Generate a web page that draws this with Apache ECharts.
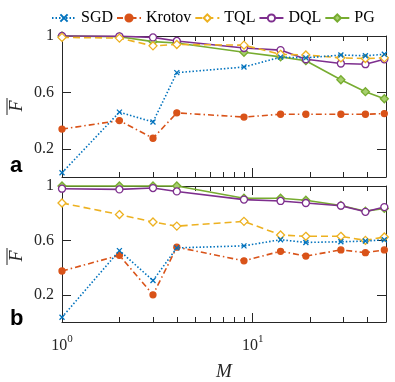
<!DOCTYPE html>
<html>
<head>
<meta charset="utf-8">
<script src="https://cdn.jsdelivr.net/npm/echarts@6/dist/echarts.min.js"></script>
<style>
  html, body { margin: 0; padding: 0; background: #fff; }
  #chart { width: 395px; height: 382px; }
</style>
</head>
<body>
<div id="chart"></div>
<script>
// number of samples M
var mVals = [1, 2, 3, 4, 9, 14, 19, 29, 39, 49];

// panel a
var sgdA = [0.03, 0.46, 0.39, 0.74, 0.78, 0.85, 0.845, 0.865, 0.86, 0.87];
var krotovA = [0.34, 0.40, 0.275, 0.455, 0.425, 0.445, 0.445, 0.445, 0.445, 0.45];
var tqlA = [0.99, 0.985, 0.93, 0.94, 0.935, 0.87, 0.865, 0.845, 0.84, 0.845];
var dqlA = [1.0, 0.998, 0.99, 0.965, 0.915, 0.90, 0.835, 0.805, 0.80, 0.835];
var pgA = [1.0, 0.995, 0.96, 0.95, 0.885, 0.852, 0.825, 0.69, 0.605, 0.555];

// panel b
var sgdB = [0.035, 0.525, 0.305, 0.545, 0.56, 0.605, 0.585, 0.59, 0.595, 0.605];
var krotovB = [0.375, 0.49, 0.2, 0.55, 0.45, 0.52, 0.485, 0.53, 0.51, 0.53];
var tqlB = [0.875, 0.79, 0.735, 0.705, 0.74, 0.64, 0.63, 0.63, 0.6, 0.625];
var dqlB = [0.98, 0.975, 0.985, 0.96, 0.9, 0.89, 0.875, 0.855, 0.81, 0.845];
var pgB = [1.0, 1.0, 1.0, 1.0, 0.91, 0.91, 0.895, 0.857, 0.815, 0.835];

var yTicks = [0.2, 0.6, 1];
var xMajor = [1, 10];
var xMinor = [2, 3, 4, 5, 6, 7, 8, 9, 20, 30, 40];

var names = ["SGD", "Krotov", "TQL", "DQL", "PG"];
var colors = ["#0072BD", "#D95319", "#EDB120", "#7E2F8E", "#77AC30"];

var serif = "Liberation Serif";
var axisColor = "#262626";

var chart = echarts.init(document.getElementById("chart"));

function pairs(ys) {
  return mVals.map(function (m, i) { return [m, ys[i]]; });
}

function xAxisSet(gi, withLabel) {
  var out = [];
  ["bottom", "top"].forEach(function (pos) {
    out.push({
      type: "log", logBase: 10, min: 1, max: 50, gridIndex: gi, position: pos,
      axisLine: { show: true, lineStyle: { color: axisColor, width: 1 } },
      axisTick: { show: true, inside: true, length: 9, customValues: xMajor,
        lineStyle: { color: axisColor } },
      axisLabel: {
        show: withLabel && pos === "bottom", customValues: xMajor, margin: 12,
        formatter: function (v) {
          return "{b|10}{s|" + Math.round(Math.log10(v)) + "}";
        },
        rich: {
          b: { fontFamily: serif, fontSize: 16, color: axisColor, lineHeight: 20, verticalAlign: "bottom" },
          s: { fontFamily: serif, fontSize: 11, color: axisColor, lineHeight: 11, verticalAlign: "top" }
        }
      },
      splitLine: { show: false },
      name: withLabel && pos === "bottom" ? "M" : "",
      nameLocation: "middle", nameGap: 40,
      nameTextStyle: { fontFamily: serif, fontStyle: "italic", fontSize: 19, color: axisColor }
    });
    out.push({
      type: "log", logBase: 10, min: 1, max: 50, gridIndex: gi, position: pos,
      axisLine: { show: false },
      axisTick: { show: true, inside: true, length: 5, customValues: xMinor,
        lineStyle: { color: axisColor } },
      axisLabel: { show: false },
      splitLine: { show: false }
    });
  });
  return out;
}

function yAxisSet(gi) {
  return ["left", "right"].map(function (pos) {
    return {
      type: "value", min: 0, max: 1, gridIndex: gi, position: pos,
      axisLine: { show: true, lineStyle: { color: axisColor, width: 1 } },
      axisTick: { show: true, inside: true, length: 9, customValues: yTicks,
        lineStyle: { color: axisColor } },
      axisLabel: { show: pos === "left", customValues: yTicks, margin: 8,
        fontFamily: serif, fontSize: 16, color: axisColor,
        formatter: function (v) { return String(v); } },
      splitLine: { show: false }
    };
  });
}

var styles = [
  { symbol: "path://M0,0L10,10M10,0L0,10", size: 5, fill: colors[0], dash: [1.5, 2] },
  { symbol: "circle", size: 6, fill: colors[1], dash: [6, 3, 1.5, 3] },
  { symbol: "diamond", size: 8, fill: "#ffffff", dash: [7, 4] },
  { symbol: "circle", size: 7, fill: "#ffffff", dash: "solid" },
  { symbol: "diamond", size: 8, fill: "#a6cf6e", dash: "solid" }
];

function seriesSet(gi, dataSets) {
  return dataSets.map(function (ys, k) {
    var st = styles[k];
    return {
      name: names[k], type: "line", xAxisIndex: gi * 4, yAxisIndex: gi * 2,
      data: pairs(ys), clip: false, symbol: st.symbol, symbolSize: st.size,
      lineStyle: { color: colors[k], width: 1.6, type: st.dash },
      itemStyle: { color: st.fill, borderColor: colors[k], borderWidth: 1.3 },
      emphasis: { disabled: true },
      z: 10 - k
    };
  });
}

var option = {
  animation: false,
  legend: {
    data: names, left: 46, top: 5, itemWidth: 24, itemHeight: 9, itemGap: 3,
    textStyle: { fontFamily: serif, fontSize: 16, color: "#000" }
  },
  grid: [
    { left: 62, right: 9, top: 36, height: 141 },
    { left: 62, right: 9, top: 186, height: 142 }
  ],
  xAxis: xAxisSet(0, false).concat(xAxisSet(1, true)),
  yAxis: yAxisSet(0).concat(yAxisSet(1)),
  series: seriesSet(0, [sgdA, krotovA, tqlA, dqlA, pgA])
    .concat(seriesSet(1, [sgdB, krotovB, tqlB, dqlB, pgB])),
  graphic: [
    { type: "text", x: 10, y: 177, style: { text: "a", fontFamily: "Liberation Sans", fontWeight: "bold",
      fontSize: 22, fill: "#000", verticalAlign: "bottom" } },
    { type: "text", x: 10, y: 330, style: { text: "b", fontFamily: "Liberation Sans", fontWeight: "bold",
      fontSize: 22, fill: "#000", verticalAlign: "bottom" } },
    { type: "text", x: 17, y: 106, rotation: Math.PI / 2, style: { text: "F", fontFamily: serif,
      fontStyle: "italic", fontSize: 18, fill: axisColor, align: "center", verticalAlign: "middle" } },
    { type: "line", shape: { x1: 7, y1: 98, x2: 7, y2: 115 }, style: { stroke: axisColor, lineWidth: 1 } },
    { type: "text", x: 17, y: 256, rotation: Math.PI / 2, style: { text: "F", fontFamily: serif,
      fontStyle: "italic", fontSize: 18, fill: axisColor, align: "center", verticalAlign: "middle" } },
    { type: "line", shape: { x1: 7, y1: 248, x2: 7, y2: 265 }, style: { stroke: axisColor, lineWidth: 1 } }
  ]
};

chart.setOption(option);
</script>
</body>
</html>
